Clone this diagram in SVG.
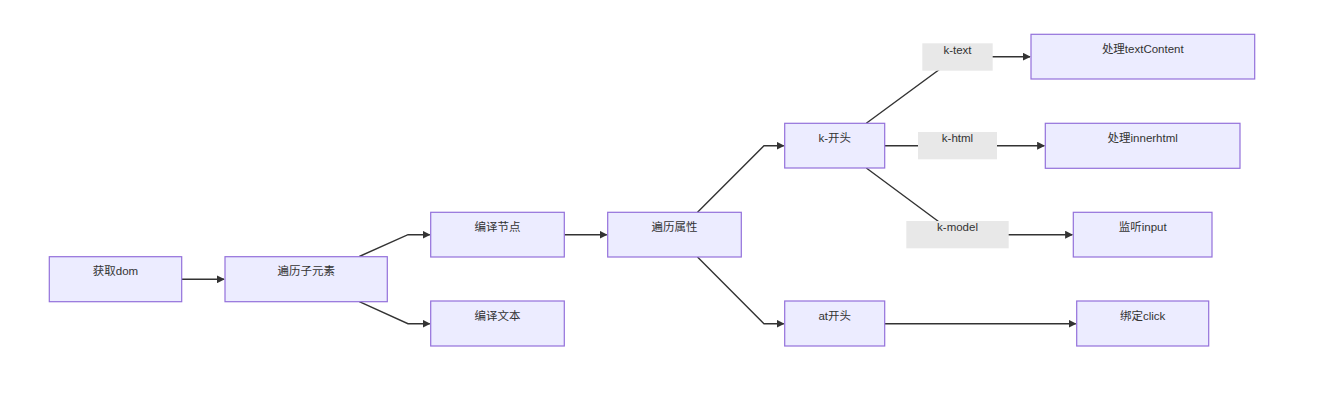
<svg xmlns="http://www.w3.org/2000/svg" width="1317" height="413" viewBox="0 0 1317 413">
<defs>
<marker id="arr" viewBox="0 0 10 10" refX="9" refY="5" markerWidth="8" markerHeight="8" markerUnits="userSpaceOnUse" orient="auto">
<path d="M0,0 L10,5 L0,10 z" fill="#333"/>
</marker>
<style>
.node rect{fill:#ECECFF;stroke:#9370DB;stroke-width:1.2}
.node text,.lbl text{font-family:"Liberation Sans","Noto Sans CJK SC",sans-serif;font-size:11.5px;fill:#333;text-anchor:middle}
.lbl rect{fill:#e8e8e8;stroke:none}
.edges path{fill:none;stroke:#333;stroke-width:1.4}
</style>
</defs>
<rect width="1317" height="413" fill="#fff"/>
<g id="connectors" class="edges">
<path d="M181.7,279.3 L224,279.3" marker-end="url(#arr)"/>
<path d="M359.3,256.5 L408,234.7 L429.7,234.7" marker-end="url(#arr)"/>
<path d="M359.3,301.7 L408,323.7 L429.7,323.7" marker-end="url(#arr)"/>
<path d="M564.3,234.7 L606.7,234.7" marker-end="url(#arr)"/>
<path d="M697.5,212.3 L764,145.7 L783.7,145.7" marker-end="url(#arr)"/>
<path d="M697.5,257 L764,323.7 L783.7,323.7" marker-end="url(#arr)"/>
<path d="M866.3,123.3 L940,69 Q950,56.7 962,56.7 L1030,56.7" marker-end="url(#arr)"/>
<path d="M884.7,145.7 L1044.3,145.7" marker-end="url(#arr)"/>
<path d="M866.3,168 L938.5,221.5 Q955,234.7 975,234.7 L1072.3,234.7" marker-end="url(#arr)"/>
<path d="M884.7,323.7 L1075.7,323.7" marker-end="url(#arr)"/>
</g>
<g id="label-ktext" class="lbl"><rect x="922.3" y="43.3" width="70.4" height="27.4"/><text x="957.5" y="53.5">k-text</text></g>
<g id="label-khtml" class="lbl"><rect x="918" y="132" width="79" height="27.3"/><text x="957.5" y="142.3">k-html</text></g>
<g id="label-kmodel" class="lbl"><rect x="906.3" y="221" width="102.4" height="27.3"/><text x="957.5" y="231.3">k-model</text></g>
<g id="n-getdom" class="node"><rect x="49.3" y="256.7" width="132.4" height="45"/><text x="115.5" y="275.2">获取dom</text></g>
<g id="n-children" class="node"><rect x="225" y="256.7" width="162.3" height="45"/><text x="306.2" y="275.2">遍历子元素</text></g>
<g id="n-compnode" class="node"><rect x="430.7" y="212.3" width="133.6" height="44.7"/><text x="497.5" y="230.8">编译节点</text></g>
<g id="n-comptext" class="node"><rect x="430.7" y="301" width="133.6" height="45"/><text x="497.5" y="319.5">编译文本</text></g>
<g id="n-attrs" class="node"><rect x="607.7" y="212.3" width="133.6" height="44.7"/><text x="674.5" y="230.8">遍历属性</text></g>
<g id="n-kstart" class="node"><rect x="784.7" y="123.3" width="100" height="44.7"/><text x="834.7" y="141.8">k-开头</text></g>
<g id="n-atstart" class="node"><rect x="784.7" y="301" width="100" height="45"/><text x="834.7" y="319.5">at开头</text></g>
<g id="n-textcontent" class="node"><rect x="1031" y="34.3" width="223.7" height="44.7"/><text x="1142.8" y="52.8">处理textContent</text></g>
<g id="n-innerhtml" class="node"><rect x="1045.3" y="123.3" width="194.7" height="45"/><text x="1142.7" y="141.8">处理innerhtml</text></g>
<g id="n-input" class="node"><rect x="1073.3" y="212.3" width="138.7" height="44.7"/><text x="1142.7" y="230.8">监听input</text></g>
<g id="n-click" class="node"><rect x="1076.7" y="301" width="132" height="45"/><text x="1142.7" y="319.5">绑定click</text></g>
</svg>
